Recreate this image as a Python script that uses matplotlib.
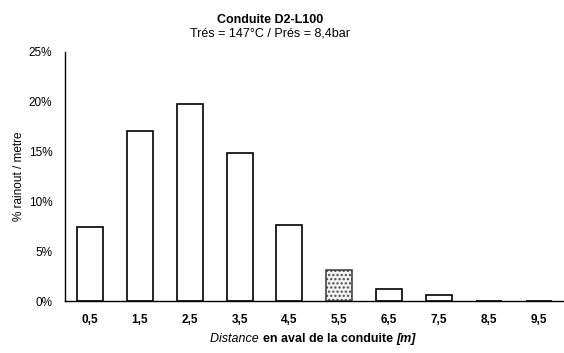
import matplotlib.pyplot as plt
import numpy as np
from matplotlib.offsetbox import TextArea, HPacker, AnchoredOffsetbox

plt.rcParams['font.family'] = ['Liberation Sans', 'DejaVu Sans']

# distance classes along the pipe and rainout per metre
distances = ['0,5', '1,5', '2,5', '3,5', '4,5', '5,5', '6,5', '7,5', '8,5', '9,5']
rainout = [0.0745, 0.171, 0.198, 0.149, 0.076, 0.031, 0.012, 0.006, 0.0, 0.0005]
y_ticks = [0, 0.05, 0.10, 0.15, 0.20, 0.25]
y_ticklabels = ['0%', '5%', '10%', '15%', '20%', '25%']

fig = plt.figure(figsize=(5.64, 3.53), dpi=100)
ax = fig.add_axes([0.115, 0.147, 0.885, 0.706])

x = np.arange(len(distances))
bars = ax.bar(x, rainout, width=0.52, color='white', edgecolor='black', linewidth=1.2, zorder=2)
# the 5,5 m class is drawn with a dotted fill
bars[5].set_hatch('....')
bars[5].set_edgecolor('#444444')
bars[5].set_facecolor('#f2f2f2')

ax.set_xlim(-0.5, len(distances) - 0.5)
ax.set_ylim(0, 0.25)
ax.set_xticks(x)
ax.set_xticklabels(distances, fontsize=8.5, fontweight='bold')
ax.set_yticks(y_ticks)
ax.set_yticklabels(y_ticklabels, fontsize=8.5)
ax.tick_params(axis='x', length=0, pad=9)
ax.tick_params(axis='y', length=0, pad=9)

for s in ['top', 'right']:
    ax.spines[s].set_visible(False)
ax.spines['left'].set_linewidth(1.0)
ax.spines['bottom'].set_linewidth(1.0)

ax.set_ylabel('% rainout / metre', fontsize=8.5)
ax.yaxis.set_label_coords(-0.08, 0.5)

# x label in three styles
parts = [
    TextArea('Distance ', textprops=dict(fontsize=9, style='italic')),
    TextArea('en aval de la conduite ', textprops=dict(fontsize=9, fontweight='bold')),
    TextArea('[m]', textprops=dict(fontsize=9, fontweight='bold', style='italic')),
]
xlab = HPacker(children=parts, align='baseline', pad=0, sep=0)
box = AnchoredOffsetbox(loc='center', child=xlab, pad=0, frameon=False,
                        bbox_to_anchor=(0.555, 0.04), bbox_transform=fig.transFigure,
                        borderpad=0)
fig.add_artist(box)

fig.text(0.479, 0.943, 'Conduite D2-L100', fontsize=9, fontweight='bold', ha='center', va='center')
fig.text(0.479, 0.906, 'Trés = 147°C / Prés = 8,4bar', fontsize=9, ha='center', va='center')

plt.savefig('out.png', dpi=100)
